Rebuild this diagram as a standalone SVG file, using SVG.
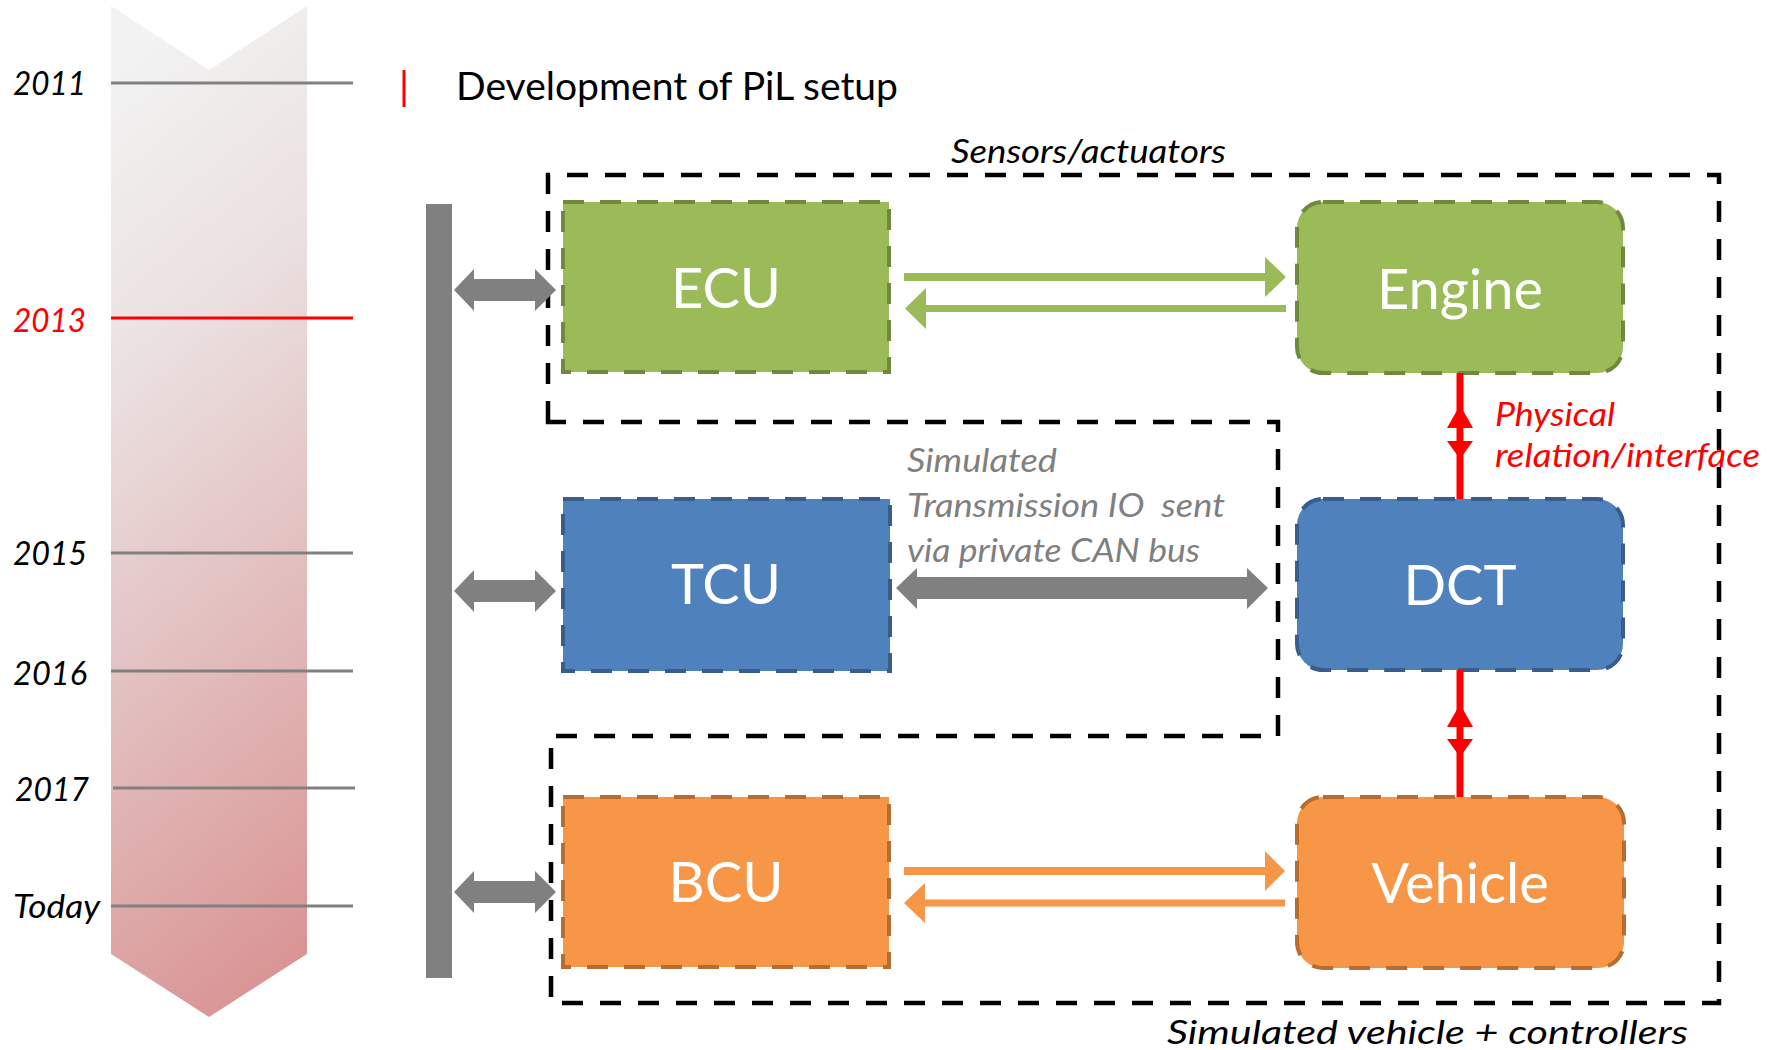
<svg xmlns="http://www.w3.org/2000/svg" width="1776" height="1050" viewBox="0 0 1776 1050">
<defs>
<linearGradient id="tl" x1="0.42" y1="0" x2="0.58" y2="1">
<stop offset="0" stop-color="#F2F2F2"/>
<stop offset="0.3" stop-color="#EBE0E0"/>
<stop offset="0.55" stop-color="#E4C6C6"/>
<stop offset="1" stop-color="#D99594"/>
</linearGradient>
<style>
text{font-family:Lato,"Liberation Sans",sans-serif}
.yr{font-size:33px;font-style:italic;fill:#000}
.tick{stroke:#808080;stroke-width:3;fill:none}
.lbl{font-size:56px;fill:#FFFFFF;text-anchor:middle}
.it{font-style:italic;font-size:33px}
.grp{fill:none;stroke:#000;stroke-width:4.5;stroke-dasharray:21 17}
.nd{stroke-width:4;stroke-dasharray:21 16}
.g{fill:#9BBB59;stroke:#71893F}
.b{fill:#4F81BD;stroke:#385D8A}
.o{fill:#F79646;stroke:#B66D31}
.gray{fill:#808080}
.ga{fill:#9BBB59}
.oa{fill:#F79646}
.red{fill:#FF0000}
</style>
</defs>
<g id="timeline">
<polygon points="111,6 209,70 307,6 307,954 209,1017 111,954" fill="url(#tl)"/>
<line class="tick" x1="111" y1="83" x2="353" y2="83"/>
<line x1="111" y1="318" x2="353" y2="318" stroke="#FF0000" stroke-width="3"/>
<line class="tick" x1="111" y1="553" x2="353" y2="553"/>
<line class="tick" x1="111" y1="671" x2="353" y2="671"/>
<line class="tick" x1="113" y1="788" x2="355" y2="788"/>
<line class="tick" x1="111" y1="906" x2="353" y2="906"/>
<text class="yr" x="13" y="95" textLength="73" lengthAdjust="spacingAndGlyphs">2011</text>
<text class="yr" x="13" y="332" style="fill:#FF0000" textLength="73" lengthAdjust="spacingAndGlyphs">2013</text>
<text class="yr" x="13" y="565" textLength="74" lengthAdjust="spacingAndGlyphs">2015</text>
<text class="yr" x="13" y="685" textLength="74" lengthAdjust="spacingAndGlyphs">2016</text>
<text class="yr" x="15" y="801" textLength="74" lengthAdjust="spacingAndGlyphs">2017</text>
<text class="yr" x="13" y="918" textLength="87" lengthAdjust="spacingAndGlyphs">Today</text>
</g>
<g id="title">
<line x1="404" y1="70" x2="404" y2="107" stroke="#FF0000" stroke-width="3"/>
<text x="456" y="100" font-size="39" textLength="442" lengthAdjust="spacingAndGlyphs">Development of PiL setup</text>
</g>
<g id="bus">
<rect x="426" y="204" width="26" height="774" class="gray"/>
</g>
<g id="groups">
<path class="grp" d="M548,422 V175 H1719 V1003 H551 V736 H1278 V422 Z"/>
<text class="it" x="951" y="163" textLength="275" lengthAdjust="spacingAndGlyphs">Sensors/actuators</text>
<text class="it" x="1167" y="1044" textLength="521" lengthAdjust="spacingAndGlyphs">Simulated vehicle + controllers</text>
</g>
<g id="ECU">
<rect class="nd g" x="563" y="202" width="326" height="170"/>
<text class="lbl" x="726" y="308">ECU</text>
</g>
<g id="Engine">
<rect class="nd g" x="1297" y="202" width="326" height="171" rx="26"/>
<text class="lbl" x="1460" y="309">Engine</text>
</g>
<g id="TCU">
<rect class="nd b" x="563" y="499" width="327" height="172"/>
<text class="lbl" x="726" y="604">TCU</text>
</g>
<g id="DCT">
<rect class="nd b" x="1297" y="499" width="326" height="171" rx="26"/>
<text class="lbl" x="1460" y="605">DCT</text>
</g>
<g id="BCU">
<rect class="nd o" x="563" y="797" width="326" height="170"/>
<text class="lbl" x="726" y="902">BCU</text>
</g>
<g id="Vehicle">
<rect class="nd o" x="1297" y="797" width="327" height="171" rx="26"/>
<text class="lbl" x="1460" y="903">Vehicle</text>
</g>
<g id="connectors">
<polygon class="gray" points="454,290 474,269 474,279 535,279 535,269 556,290 535,311 535,301 474,301 474,311"/>
<polygon class="gray" points="454,591 474,570 474,580 535,580 535,570 556,591 535,612 535,602 474,602 474,612"/>
<polygon class="gray" points="454,892 474,871 474,881 535,881 535,871 556,892 535,913 535,903 474,903 474,913"/>
<polygon class="gray" points="896,588 917,568 917,577 1247,577 1247,568 1268,588 1247,609 1247,599 917,599 917,609"/>
<text class="it" x="907" y="472" style="fill:#7F7F7F" textLength="150" lengthAdjust="spacingAndGlyphs">Simulated</text>
<text class="it" x="907" y="517" style="fill:#7F7F7F" xml:space="preserve" textLength="318" lengthAdjust="spacingAndGlyphs">Transmission IO  sent</text>
<text class="it" x="907" y="562" style="fill:#7F7F7F" textLength="293" lengthAdjust="spacingAndGlyphs">via private CAN bus</text>
<polygon class="ga" points="904,273 1265,273 1265,257 1286,277 1265,297 1265,281 904,281"/>
<polygon class="ga" points="1286,305 926,305 926,288 905,308.5 926,329 926,312 1286,312"/>
<polygon class="oa" points="904,867 1265,867 1265,851 1285,871 1265,891 1265,875 904,875"/>
<polygon class="oa" points="1285,899.5 925,899.5 925,883 904,903 925,923 925,906.5 1285,906.5"/>
<line x1="1460" y1="373" x2="1460" y2="499" stroke="#FF0000" stroke-width="7"/>
<polygon class="red" points="1460,405 1473,428 1447,428"/>
<polygon class="red" points="1447,441 1473,441 1460,459"/>
<line x1="1460" y1="670" x2="1460" y2="797" stroke="#FF0000" stroke-width="7"/>
<polygon class="red" points="1460,704 1473,727 1447,727"/>
<polygon class="red" points="1447,739 1473,739 1460,757"/>
<text class="it" x="1495" y="426" style="fill:#FF0000" textLength="120" lengthAdjust="spacingAndGlyphs">Physical</text>
<text class="it" x="1495" y="467" style="fill:#FF0000" textLength="265" lengthAdjust="spacingAndGlyphs">relation/interface</text>
</g>
</svg>
